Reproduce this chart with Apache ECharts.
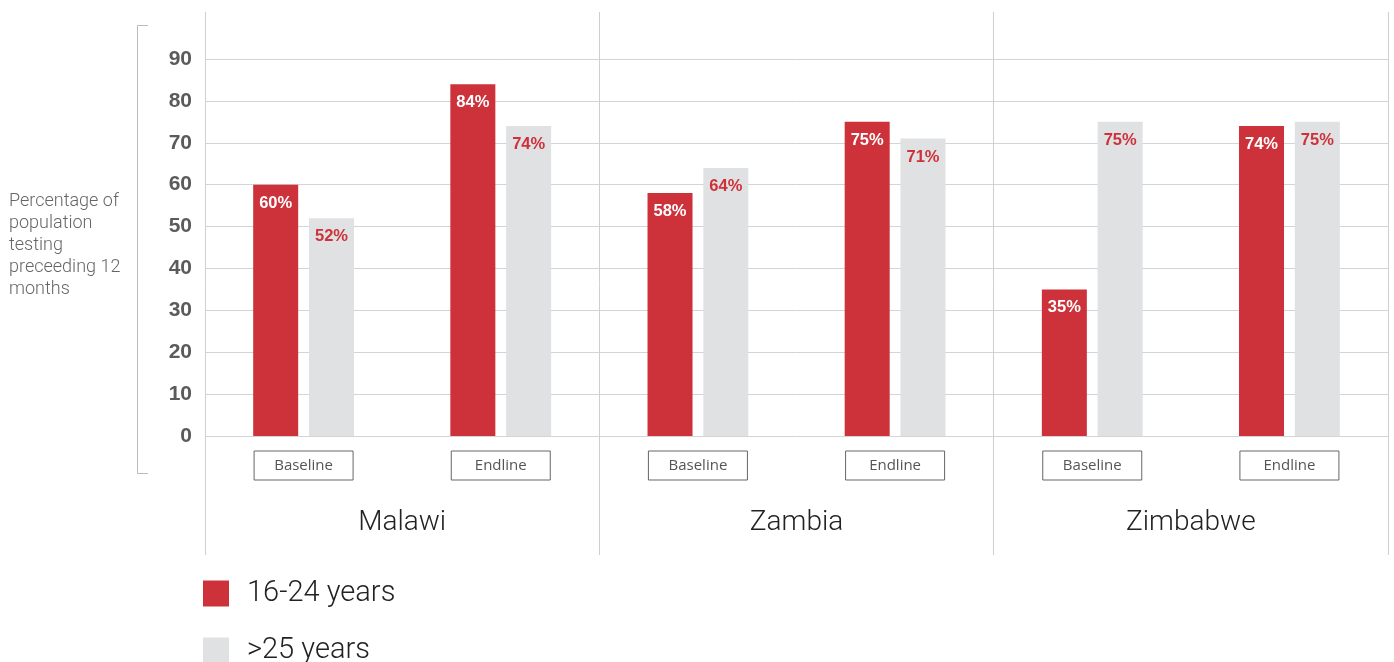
<!DOCTYPE html>
<html><head><meta charset="utf-8">
<script src="https://cdn.jsdelivr.net/npm/echarts@6/dist/echarts.min.js"></script>
<style>html,body{margin:0;padding:0;background:#fff}#c{width:1394px;height:662px}</style>
</head><body><div id="c"></div>
<script>
const countries = ['Malawi', 'Zambia', 'Zimbabwe'];
const stages = ['Baseline', 'Endline'];
const categories = ['Malawi Baseline', 'Malawi Endline', 'Zambia Baseline', 'Zambia Endline', 'Zimbabwe Baseline', 'Zimbabwe Endline'];
const young = [60, 84, 58, 75, 35, 74];
const older = [52, 74, 64, 71, 75, 75];
const seriesNames = ['16-24 years', '>25 years'];
const yTicks = [0, 10, 20, 30, 40, 50, 60, 70, 80, 90];
const yTitle = 'Percentage of\npopulation\ntesting\npreceeding 12\nmonths';

const RED = '#cd313a', GREY = '#e0e1e3';
const legendText = {fontFamily: 'Roboto', fontWeight: 300, fontSize: 29, color: '#222', padding: [0, 0, 0, 13]};
const chart = echarts.init(document.getElementById('c'), null, {renderer: 'canvas'});
chart.setOption({
  animation: false,
  title: {
    text: yTitle, left: 9, top: 191, padding: 0,
    textStyle: {fontFamily: 'Roboto', fontWeight: 300, fontSize: 18, lineHeight: 21.8, color: '#666'}
  },
  grid: [
    {left: 205, right: 6, top: 59, height: 377},
    {left: 205, right: 6, top: 12, height: 543}
  ],
  legend: [
    {left: 203, top: 579, padding: 0, itemWidth: 26, itemHeight: 26, icon: 'rect',
      data: [seriesNames[0]], textStyle: legendText},
    {left: 203, top: 636, padding: 0, itemWidth: 26, itemHeight: 26, icon: 'rect',
      data: [seriesNames[1]], textStyle: legendText}
  ],
  xAxis: [
    {
      type: 'category', gridIndex: 0, data: categories,
      axisLine: {show: false}, axisTick: {show: false}, splitLine: {show: false},
      axisLabel: {
        margin: 15,
        formatter: (v, i) => stages[i % 2],
        fontFamily: 'Open Sans', fontSize: 15, color: '#555',
        borderColor: '#666', borderWidth: 1, width: 99, height: 29, lineHeight: 29, align: 'center'
      }
    },
    {
      type: 'category', gridIndex: 1, data: countries,
      axisLine: {show: false}, axisTick: {show: false},
      splitLine: {show: true, lineStyle: {color: '#cfcfcf', width: 1}},
      axisLabel: {margin: -46, fontFamily: 'Roboto', fontWeight: 300, fontSize: 28, color: '#222'}
    }
  ],
  yAxis: [
    {
      type: 'value', gridIndex: 0, min: 0, max: 90, interval: 10,
      axisLine: {show: false}, axisTick: {show: false},
      splitLine: {lineStyle: {color: '#d4d4d4', width: 1}},
      axisLabel: {margin: 13, fontFamily: 'Liberation Sans', fontWeight: 'bold', fontSize: 21, color: '#5b5b5b',
        padding: [3, 0, 0, 0],
        formatter: v => yTicks.includes(v) ? String(v) : ''}
    },
    {type: 'value', gridIndex: 1, show: false, min: 0, max: 1}
  ],
  graphic: [{
    type: 'polyline', silent: true,
    shape: {points: [[148, 25.5], [137.5, 25.5], [137.5, 473.5], [148, 473.5]]},
    style: {stroke: '#bbbbbb', lineWidth: 1, fill: null}
  }],
  series: [
    {
      name: seriesNames[0], type: 'bar', xAxisIndex: 0, yAxisIndex: 0, data: young,
      barWidth: 45, barGap: '24%', itemStyle: {color: RED},
      label: {show: true, position: 'insideTop', distance: 10, formatter: '{c}%',
        fontFamily: 'Liberation Sans', fontWeight: 'bold', fontSize: 16.5, color: '#fff'}
    },
    {
      name: seriesNames[1], type: 'bar', xAxisIndex: 0, yAxisIndex: 0, data: older,
      barWidth: 45, barGap: '24%', itemStyle: {color: GREY},
      label: {show: true, position: 'insideTop', distance: 10, formatter: '{c}%',
        fontFamily: 'Liberation Sans', fontWeight: 'bold', fontSize: 16.5, color: RED}
    }
  ]
});
</script></body></html>
